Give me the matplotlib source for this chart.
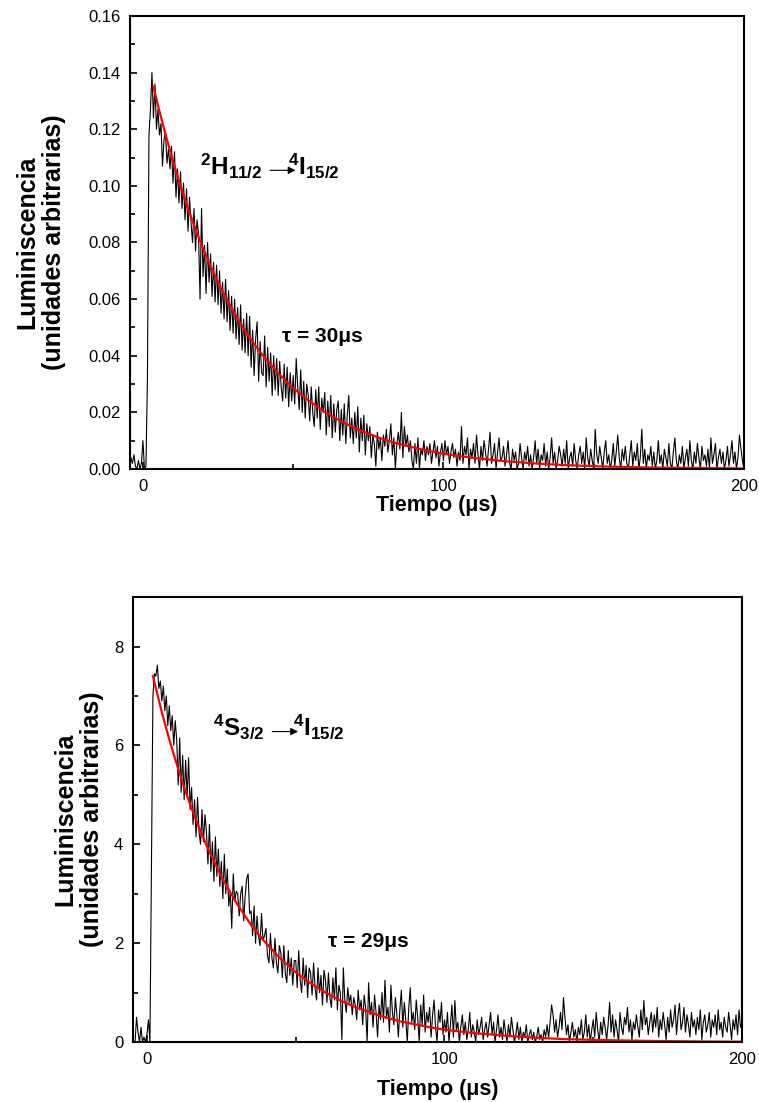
import numpy as np
import matplotlib
matplotlib.use("Agg")
import matplotlib.pyplot as plt

plt.rcParams['font.family'] = ['Liberation Sans', 'DejaVu Sans']
plt.rcParams['mathtext.fontset'] = 'custom'
plt.rcParams['mathtext.rm'] = 'Liberation Sans'
plt.rcParams['mathtext.bf'] = 'Liberation Sans:bold'
plt.rcParams['mathtext.it'] = 'Liberation Sans:italic'

# sampling of both traces: first point at -4 us, one point every 0.5 us
t_start = -4.0
t_step = 0.5

# 2H11/2 -> 4I15/2 decay, in units of 0.001
top_trace_milli = [
    4, 2, 5, 1, 0, 3, 0, 2, 10, 0, 1,
    32, 118, 127, 140, 124, 136,
    120, 127, 118, 122, 107, 116, 119, 108, 113, 106, 114,
    101, 112, 96, 106, 94, 105, 92, 101, 88, 99,
    84, 96, 87, 80, 92, 77, 88, 83, 60, 92,
    68, 79, 62, 80, 66, 76, 61, 73, 59, 72,
    58, 70, 55, 66, 53, 67, 52, 63, 49, 61,
    48, 60, 46, 57, 44, 58, 42, 53, 41, 55,
    40, 54, 36, 49, 33, 46, 52, 31, 45, 34,
    33, 47, 29, 43, 31, 41, 26, 40, 28, 39,
    26, 38, 29, 24, 37, 25, 36, 22, 34, 24,
    33, 23, 39, 29, 21, 35, 20, 31, 18, 30,
    26, 17, 29, 20, 15, 28, 18, 29, 14, 25,
    20, 27, 12, 24, 15, 26, 11, 23, 13, 21,
    24, 10, 21, 12, 23, 9, 19, 26, 11, 18,
    9, 20, 11, 22, 6, 18, 10, 19, 5, 16,
    10, 15, 4, 12, 9, 1, 13, 7, 11, 3,
    12, 8, 14, 6, 10, 16, 5, 11, 0, 9,
    13, 7, 20, 4, 15, 8, 12, 6, 10, 3,
    0, 9, 2, 11, 0, 7, 5, 10, 3, 8,
    5, 9, 2, 6, 10, 4, 8, 1, 6, 9,
    3, 10, 5, 8, 2, 6, 9, 4, 7, 1,
    6, 3, 15, 2, 8, 5, 11, 0, 7, 4,
    9, 2, 12, 5, 0, 8, 3, 10, 6, 1,
    7, 13, 2, 5, 9, 0, 6, 11, 3, 4,
    8, 1, 5, 10, 2, 0, 7, 3, 6, 0,
    2, 9, 4, 0, 6, 3, 8, 1, 5, 0,
    4, 10, 2, 7, 0, 5, 3, 9, 1, 6,
    0, 4, 11, 2, 6, 0, 3, 8, 5, 1,
    7, 2, 10, 0, 4, 6, 1, 9, 3, 0,
    5, 8, 2, 6, 0, 11, 4, 1, 7, 3,
    0, 14, 5, 2, 8, 4, 0, 6, 10, 2,
    5, 0, 3, 9, 1, 6, 12, 4, 0, 7,
    3, 8, 2, 0, 5, 10, 1, 6, 3, 9,
    0, 4, 14, 2, 7, 0, 5, 3, 8, 1,
    6, 0, 3, 10, 2, 5, 0, 7, 4, 1,
    9, 2, 0, 6, 11, 3, 0, 5, 2, 8,
    0, 4, 7, 1, 10, 3, 0, 6, 2, 9,
    4, 0, 8, 3, 5, 1, 7, 0, 11, 2,
    5, 9, 0, 4, 7, 2, 6, 0, 3, 8,
    1, 5, 10, 2, 6, 0, 4, 12, 7, 3,
    0,
]

# 4S3/2 -> 4I15/2 decay, in units of 0.01
bottom_trace_centi = [
    0, 50, 20, 0, 30, 0, 10, 0, 15, 45, 0,
    350, 700, 745, 740, 762, 715, 730, 690, 720, 670, 700, 640, 680, 630, 660, 600, 650,
    610, 520, 615, 505, 580, 490, 570, 495, 575, 470,
    515, 440, 490, 415, 495, 425, 400, 470, 405, 460,
    425, 360, 440, 345, 405, 325, 415, 335, 390, 315,
    365, 290, 380, 300, 350, 275, 305, 230, 340, 285,
    305, 300, 255, 300, 315, 245, 295, 330, 340, 260,
    265, 215, 275, 200, 255, 215, 195, 260, 205, 215,
    230, 175, 160, 220, 170, 150, 210, 160, 140, 195,
    180, 130, 195, 140, 120, 185, 135, 170, 115, 165,
    165, 110, 185, 125, 100, 170, 115, 155, 90, 150,
    140, 95, 160, 110, 85, 150, 100, 135, 75, 145,
    125, 80, 140, 90, 70, 130, 85, 150, 65, 115,
    100, 5, 150, 85, 60, 110, 80, 95, 55, 90,
    75, 45, 105, 65, 85, 35, 95, 70, 0, 120,
    55, 80, 30, 95, 60, 10, 75, 45, 100, 40,
    125, 50, 70, 20, 115, 60, 35, 90, 55, 10,
    65, 105, 30, 80, 45, 0, 70, 110, 40, 60,
    25, 85, 50, 0, 75, 35, 95, 20, 60, 40,
    70, 10, 55, 85, 30, 0, 65, 40, 80, 15,
    45, 20, 60, 0, 35, 75, 10, 84, 25, 40,
    0, 30, 55, 15, 40, 5, 25, 60, 10, 35,
    20, 0, 45, 15, 30, 50, 5, 25, 40, 10,
    35, 60, 15, 40, 0, 25, 55, 10, 30, 5,
    45, 20, 0, 35, 10, 50, 25, 0, 15, 40,
    5, 30, 0, 20, 10, 35, 0, 15, 25, 5,
    20, 0, 10, 30, 5, 15, 0, 25, 10, 35,
    10, 40, 75, 55, 20, 45, 10, 30, 60, 25,
    90, 50, 15, 35, 0, 20, 40, 10, 25, 0,
    30, 15, 45, 5, 20, 55, 10, 35, 0, 25,
    45, 10, 60, 25, 0, 40, 15, 50, 30, 5,
    35, 80, 20, 55, 10, 45, 25, 0, 60, 30,
    15, 50, 35, 70, 20, 45, 5, 40, 25, 55,
    30, 10, 65, 25, 84, 35, 50, 15, 40, 60,
    20, 55, 30, 70, 10, 45, 25, 60, 35, 5,
    50, 20, 65, 30, 45, 75, 15, 55, 78, 25,
    40, 70, 20, 55, 35, 10, 60, 30, 45, 15,
    50, 25, 65, 5, 40, 55, 20, 35, 60, 10,
    45, 30, 55, 15, 65, 25, 40, 10, 50, 30,
    20, 60, 35, 5, 45, 25, 55, 15, 65, 30,
    40,
]

# exponential fits (red)
fit_top_t = [3.5, 5, 7.5, 10, 12.5, 15, 17.5, 20, 22.5, 25, 27.5, 30, 32.5, 35, 37.5, 40,
             45, 50, 55, 60, 65, 70, 75, 80, 85, 90, 95, 100, 110, 120, 130, 140, 150,
             160, 170, 180, 190, 200]
fit_top_val = [0.1350, 0.1284, 0.1182, 0.1087, 0.1000, 0.0920, 0.0847, 0.0779, 0.0717,
               0.0659, 0.0607, 0.0558, 0.0513, 0.0472, 0.0435, 0.0400, 0.0338, 0.0286,
               0.0243, 0.0205, 0.0174, 0.0147, 0.0125, 0.0105, 0.0089, 0.0076, 0.0064,
               0.0054, 0.0039, 0.0028, 0.0020, 0.0014, 0.0010, 0.0007, 0.0005, 0.0004,
               0.0003, 0.0002]

fit_bot_t = [2, 5, 7.5, 10, 12.5, 15, 17.5, 20, 22.5, 25, 27.5, 30, 32.5, 35, 37.5, 40,
             45, 50, 55, 60, 65, 70, 75, 80, 85, 90, 95, 100, 110, 120, 130, 140, 150,
             160, 170, 180, 190, 200]
fit_bot_val = [7.40, 6.67, 6.12, 5.62, 5.15, 4.73, 4.34, 3.98, 3.66, 3.35, 3.08, 2.82,
               2.59, 2.37, 2.18, 2.00, 1.68, 1.41, 1.19, 1.00, 0.84, 0.71, 0.60, 0.50,
               0.42, 0.36, 0.30, 0.25, 0.18, 0.13, 0.09, 0.06, 0.045, 0.032, 0.022,
               0.016, 0.011, 0.008]


def style_axes(ax):
    for sp in ax.spines.values():
        sp.set_linewidth(1.5)
    ax.tick_params(which='both', direction='in', top=False, right=False,
                   labelsize=12, pad=7)
    ax.tick_params(which='major', length=5, width=1.2)
    ax.tick_params(which='minor', length=3.5, width=1.2)


fig = plt.figure(figsize=(7.59, 11.02), dpi=100)

# ---- top panel
ax1 = fig.add_axes([0.1713, 0.5744, 0.8089, 0.4111])
y1 = np.array(top_trace_milli) / 1000.0
t1 = t_start + t_step * np.arange(len(y1))
ax1.plot(t1, y1, color='black', lw=0.8)
ax1.plot(fit_top_t, fit_top_val, color='#ff0000', lw=1.6)
ax1.set_xlim(-4.3, 200)
ax1.set_ylim(0, 0.16)
ax1.set_xticks([0, 100, 200])
ax1.set_xticks([50, 150], minor=True)
ax1.set_yticks(np.arange(0, 0.161, 0.02))
ax1.set_yticks(np.arange(0.01, 0.16, 0.02), minor=True)
ax1.yaxis.set_major_formatter(matplotlib.ticker.FormatStrFormatter('%.2f'))
style_axes(ax1)
ax1.set_xlabel('Tiempo (μs)', fontsize=15.5, fontweight='bold')
ax1.xaxis.set_label_coords(0.5, -0.058)
ax1.set_ylabel('Luminiscencia\n(unidades arbitrarias)', fontsize=18, fontweight='bold',
               linespacing=1.1)
ax1.yaxis.set_label_coords(-0.105, 0.5)

ax1.text(19.0, 0.1040, r'$^{\mathbf{2}}\mathbf{H}_{\mathbf{11/2}}$', fontsize=17.5,
         va='baseline', ha='left')
ax1.annotate('', xy=(50.8, 0.1055), xytext=(42.3, 0.1055),
             arrowprops=dict(arrowstyle='-|>', color='black', lw=0.8,
                             mutation_scale=11, shrinkA=0, shrinkB=0))
ax1.text(48.3, 0.1040, r'$^{\mathbf{4}}\mathbf{I}_{\mathbf{15/2}}$', fontsize=17.5,
         va='baseline', ha='left')
ax1.text(46.3, 0.0447, 'τ = 30μs', fontsize=15, fontweight='bold',
         va='baseline', ha='left')

# ---- bottom panel
ax2 = fig.add_axes([0.1752, 0.0544, 0.8024, 0.4038])
y2 = np.array(bottom_trace_centi) / 100.0
t2 = t_start + t_step * np.arange(len(y2))
ax2.plot(t2, y2, color='black', lw=0.8)
ax2.plot(fit_bot_t, fit_bot_val, color='#ff0000', lw=1.6)
ax2.set_xlim(-4.7, 200)
ax2.set_ylim(0, 9)
ax2.set_xticks([0, 100, 200])
ax2.set_xticks([50, 150], minor=True)
ax2.set_yticks([0, 2, 4, 6, 8])
ax2.set_yticks([1, 3, 5, 7], minor=True)
style_axes(ax2)
ax2.set_xlabel('Tiempo (μs)', fontsize=15.5, fontweight='bold')
ax2.xaxis.set_label_coords(0.5, -0.083)
ax2.set_ylabel('Luminiscencia\n(unidades arbitrarias)', fontsize=18, fontweight='bold',
               linespacing=1.1)
ax2.yaxis.set_label_coords(-0.048, 0.5)

ax2.text(22.2, 6.18, r'$^{\mathbf{4}}\mathbf{S}_{\mathbf{3/2}}$', fontsize=17.5,
         va='baseline', ha='left')
ax2.annotate('', xy=(50.8, 6.28), xytext=(42.1, 6.28),
             arrowprops=dict(arrowstyle='-|>', color='black', lw=0.8,
                             mutation_scale=11, shrinkA=0, shrinkB=0))
ax2.text(49.2, 6.18, r'$^{\mathbf{4}}\mathbf{I}_{\mathbf{15/2}}$', fontsize=17.5,
         va='baseline', ha='left')
ax2.text(61.0, 1.92, 'τ = 29μs', fontsize=15, fontweight='bold',
         va='baseline', ha='left')

fig.savefig('out.png', dpi=100)
